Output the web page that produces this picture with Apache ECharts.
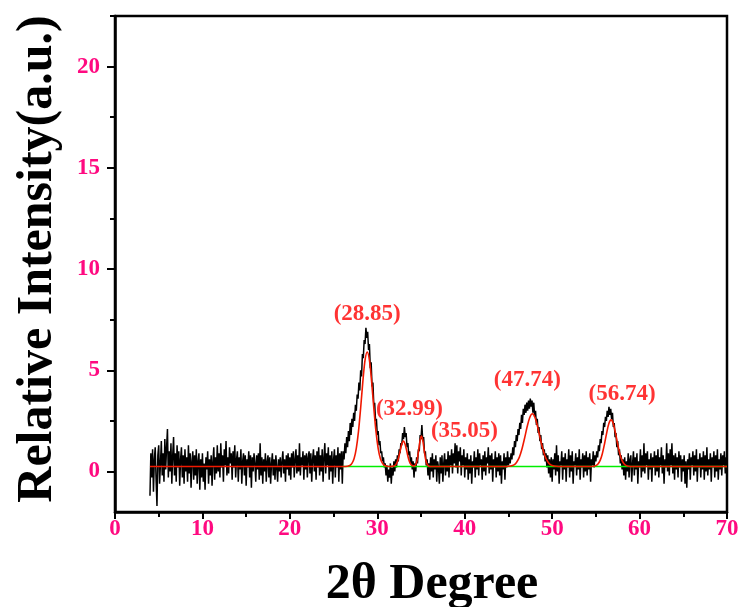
<!DOCTYPE html>
<html>
<head>
<meta charset="utf-8">
<script src="https://cdn.jsdelivr.net/npm/echarts@6/dist/echarts.min.js"></script>
<style>
  html, body { margin: 0; padding: 0; background: #fff; }
  #chart { width: 738px; height: 607px; }
</style>
</head>
<body>
<div id="chart"></div>
<script>
// Measured XRD pattern: 2θ from 4.0° to 70.0° in 0.1° steps
const scanStart = 4.0;
const scanStep = 0.1;
const intensity = [
  -1.2, 0.9, -0.3, 1.1, -1.0, 0.6, 1.2, -0.4, -1.7, 0.8,
  1.3, -0.6, 0.4, 1.5, -0.2, 0.9, -0.5, 1.6, 0.1, 1.2,
  2.1, -0.3, 1.0, 0.0, 1.4, -0.6, 0.8, 1.7, -0.2, 0.9,
  -0.5, 1.3, 0.2, 1.0, -0.7, 0.6, 1.2, -0.3, 0.8, -0.6,
  1.1, 0.0, 0.7, -0.5, 1.3, -0.1, 0.9, -0.8, 0.5, 1.0,
  -0.4, 0.8, -0.2, 1.1, -0.6, 0.5, 0.9, -0.9, 0.6, -0.3,
  0.9, -0.5, 0.4, -0.9, 0.7, 0.1, 1.0, -0.6, 0.6, -0.2,
  0.8, -0.7, 0.5, 1.2, -0.4, 0.7, -0.1, 1.3, 0.0, 0.9,
  -0.3, 1.4, 0.2, 0.8, -0.5, 1.1, 0.3, 1.5, -0.2, 0.7,
  -0.1, 1.2, 0.4, 0.9, -0.4, 1.0, 0.2, 1.3, -0.3, 0.6,
  1.0, -0.5, 0.7, 0.1, 1.1, -0.6, 0.5, 0.9, -0.2, 0.8,
  -0.7, 0.6, 0.2, 1.0, -0.3, 0.8, -0.8, 0.7, 0.0, 0.9,
  0.4, -0.5, 0.8, 0.1, 0.9, -0.4, 1.4, -0.2, 0.7, -0.6,
  0.6, 0.0, 0.9, -0.5, 0.5, 0.8, -0.3, 0.7, -0.6, 0.4,
  0.9, -0.2, 0.6, -0.4, 0.8, 0.2, -0.5, 0.6, 0.0, 0.7,
  -0.3, 0.5, 1.0, -0.1, 0.6, -0.5, 0.8, 0.1, 0.9, -0.2,
  0.7, -0.4, 0.9, 0.2, 1.0, -0.3, 0.6, 1.1, -0.1, 0.8,
  0.0, 1.4, -0.2, 0.7, 0.3, 1.0, -0.4, 0.8, 0.1, 0.9,
  -0.3, 0.7, 1.0, -0.1, 0.9, -0.5, 0.6, 1.1, 0.0, 0.8,
  -0.4, 1.0, 0.2, 1.2, -0.2, 0.8, 0.0, 1.1, -0.5, 0.7,
  1.4, -0.1, 0.9, 0.3, 1.2, -0.4, 0.8, 0.0, 1.0, -0.6,
  0.6, 1.1, -0.3, 0.8, 0.2, 1.2, -0.5, 0.9, 0.1, 1.0,
  -0.6, 1.0, 0.6, 1.4, 0.9, 1.7, 1.2, 2.0, 1.5, 2.4,
  1.8, 2.6, 2.2, 2.9, 2.5, 3.3, 3.0, 3.8, 3.6, 4.4,
  4.0, 5.0, 4.7, 5.8, 5.6, 6.5, 6.3, 7.1, 6.6, 6.9,
  6.0, 6.3, 5.1, 5.4, 4.2, 4.4, 3.3, 3.4, 2.5, 2.6,
  1.8, 2.0, 1.3, 1.5, 0.9, 1.0, 0.5, 0.7, 0.2, 0.4,
  -0.2, 0.3, -0.5, 0.1, -0.3, 0.4, -0.6, 0.2, -0.2, 0.5,
  0.0, 0.6, 0.2, 0.8, 0.5, 1.1, 0.9, 1.4, 1.3, 1.9,
  1.6, 2.2, 1.7, 1.9, 1.2, 1.4, 0.8, 1.0, 0.4, 0.7,
  0.1, 0.5, -0.3, 0.4, 0.0, 0.7, 0.4, 1.1, 1.0, 1.8,
  1.6, 2.3, 1.5, 1.7, 0.9, 1.0, 0.3, 0.6, -0.2, 0.4,
  -0.4, 0.7, 0.0, 0.9, -0.3, 0.6, 0.1, 0.8, -0.5, 0.5,
  0.2, -0.6, 0.7, -0.1, 0.8, -0.5, 0.4, 0.9, -0.2, 0.6,
  0.0, 1.0, -0.3, 0.8, 0.3, 1.1, -0.1, 0.9, 0.4, 1.4,
  0.2, 1.3, -0.1, 1.0, 0.5, 1.2, -0.2, 0.8, 0.3, 1.1,
  -0.3, 0.7, 0.1, 0.9, -0.4, 0.6, -0.1, 0.8, -0.6, 0.5,
  0.2, 1.0, -0.3, 0.7, 0.1, 1.1, -0.2, 0.9, 0.3, 0.6,
  -0.4, 0.8, 0.0, 1.0, -0.2, 0.7, 0.4, 1.2, -0.1, 0.8,
  0.1, 0.9, -0.5, 0.6, 0.2, 1.0, -0.3, 0.7, 0.0, 0.9,
  -0.2, 0.8, -0.6, 0.5, 0.1, 0.9, -0.4, 0.7, 0.2, 1.0,
  0.3, 0.7, 0.4, 0.9, 0.6, 1.2, 0.8, 1.5, 1.2, 1.8,
  1.5, 2.1, 1.8, 2.4, 2.1, 2.8, 2.4, 3.1, 2.8, 3.3,
  2.9, 3.4, 3.0, 3.5, 3.1, 3.6, 3.2, 3.5, 2.9, 3.4,
  2.7, 3.0, 2.3, 2.6, 1.9, 2.2, 1.5, 1.8, 1.1, 1.4,
  0.8, 1.1, 0.5, 0.9, 0.2, 0.8, -0.1, 0.6, -0.3, 0.7,
  -0.5, 0.6, 0.1, 0.9, -0.2, 1.3, 0.0, 0.8, -0.6, 0.5,
  0.3, 1.0, -0.4, 0.7, 0.1, 0.9, -0.5, 0.6, 0.2, 1.1,
  -0.3, 0.8, 0.0, 1.0, -0.6, 0.5, 0.3, 0.9, -0.2, 0.7,
  0.1, 1.1, -0.4, 0.6, 0.2, 0.9, -0.3, 0.8, 0.0, 1.0,
  -0.2, 0.7, 0.1, 0.9, -0.5, 0.6, 0.3, 1.0, 0.2, 0.8,
  0.5, 1.0, 0.7, 1.3, 1.0, 1.6, 1.4, 2.0, 1.8, 2.4,
  2.2, 2.7, 2.5, 3.0, 2.7, 3.2, 2.8, 3.1, 2.6, 2.9,
  2.2, 2.4, 1.7, 1.9, 1.2, 1.5, 0.8, 1.1, 0.4, 0.8,
  0.1, 0.6, -0.2, 0.7, -0.4, 0.5, 0.0, 0.9, -0.3, 0.6,
  0.8, -0.5, 0.4, 1.0, -0.2, 0.7, 0.1, 0.9, -0.6, 0.5,
  0.2, 1.1, -0.3, 0.8, 0.0, 1.4, -0.1, 0.9, 0.3, 1.0,
  -0.4, 0.6, 0.1, 0.9, -0.5, 0.7, 0.2, 1.0, -0.2, 0.8,
  0.0, 1.1, -0.3, 0.7, 0.3, 1.2, -0.1, 0.8, -0.6, 0.6,
  0.2, 1.4, 0.0, 0.9, -0.2, 1.1, 0.3, 1.4, -0.1, 0.8,
  -0.4, 0.9, 0.1, 0.7, -0.3, 1.0, 0.2, 0.8, -0.5, 0.6,
  0.0, 0.8, -0.6, 0.5, -0.8, 0.6, 0.1, 0.9, -0.4, 0.7,
  0.3, 1.0, -0.2, 0.8, 0.0, 1.1, -0.5, 0.6, 0.2, 0.9,
  -0.3, 0.7, 0.1, 1.0, -0.4, 0.8, 0.0, 1.2, -0.2, 0.6,
  0.1, 0.9, -0.5, 0.7, 0.2, 1.0, -0.3, 0.8, 0.0, 1.1,
  -0.4, 0.6, 0.1, 0.9, -0.2, 0.8, 0.3, 1.0, -0.1, 0.7,
  0.4
];

// Peak fit (sum of Gaussians on a flat background)
const fitAngle = [
  4.0,
  26.35, 26.85, 27.1, 27.35, 27.6, 27.85, 28.1, 28.35, 28.6, 28.85,
  29.1, 29.35, 29.6, 29.85, 30.1, 30.35, 30.6, 30.85, 31.35,
  31.99, 32.19, 32.39, 32.59, 32.79, 32.99, 33.19, 33.39, 33.59, 33.79,
  33.99, 34.25, 34.45, 34.6, 34.75, 34.9, 35.05, 35.2, 35.35, 35.5,
  35.65, 35.85, 36.05,
  44.74, 45.24, 45.64, 45.94, 46.24, 46.54, 46.84, 47.14, 47.44, 47.74,
  48.04, 48.34, 48.64, 48.94, 49.24, 49.54, 49.84, 50.24, 50.74,
  54.24, 54.74, 54.99, 55.24, 55.49, 55.74, 55.99, 56.24, 56.49, 56.74,
  56.99, 57.24, 57.49, 57.74, 57.99, 58.24, 58.49, 58.74, 59.24,
  70.0
];
const fitIntensity = [
  0.25,
  0.25, 0.30, 0.40, 0.64, 1.14, 1.98, 3.15, 4.45, 5.50, 5.90,
  5.50, 4.45, 3.15, 1.98, 1.14, 0.64, 0.40, 0.30, 0.25,
  0.29, 0.39, 0.61, 0.97, 1.34, 1.50, 1.34, 0.97, 0.61, 0.39,
  0.30, 0.28, 0.40, 0.66, 1.10, 1.55, 1.75, 1.55, 1.10, 0.66,
  0.40, 0.28, 0.25,
  0.25, 0.27, 0.33, 0.46, 0.70, 1.10, 1.63, 2.21, 2.67, 2.85,
  2.67, 2.21, 1.63, 1.10, 0.70, 0.46, 0.33, 0.27, 0.25,
  0.25, 0.26, 0.29, 0.37, 0.55, 0.88, 1.36, 1.91, 2.37, 2.55,
  2.37, 1.91, 1.36, 0.88, 0.55, 0.37, 0.29, 0.26, 0.25,
  0.25
];

// Background line
const backgroundAngle = [26.0, 70.0];
const backgroundLevel = [0.25, 0.25];

// Fitted peak centres (2θ)
const peakCentres = [28.85, 32.99, 35.05, 47.74, 56.74];

// Axis ticks
const xTickValues = [0, 10, 20, 30, 40, 50, 60, 70];
const yTickValues = [0, 5, 10, 15, 20];
const yMinorTickValues = [2.5, 7.5, 12.5, 17.5, 22.5];

// Label placement for the peak annotations: [height in data units, x shift in px]
const peakLabelPlacement = [[7.8, 0], [3.1, 6], [2.0, 43], [4.5, -5], [3.85, 11]];

const serif = '"Liberation Serif", "Times New Roman", serif';
const tickColor = '#ff0a80';

const scanData = intensity.map((v, i) => [+(scanStart + i * scanStep).toFixed(2), v]);
const fitData = fitAngle.map((a, i) => [a, fitIntensity[i]]);
const backgroundData = backgroundAngle.map((a, i) => [a, backgroundLevel[i]]);
const labelData = peakCentres.map((c, i) => ({
  value: [c, peakLabelPlacement[i][0]],
  label: { offset: [peakLabelPlacement[i][1], 0] }
}));

const chart = echarts.init(document.getElementById('chart'), null, { renderer: 'canvas' });

const yBase = {
  type: 'value',
  min: -2,
  max: 22.5,
  position: 'left',
  splitLine: { show: false },
};

chart.setOption({
  animation: false,
  backgroundColor: '#fff',
  grid: {
    left: 115, right: 11, top: 16, bottom: 95,
    outerBoundsMode: 'none',
    show: true, borderColor: '#000', borderWidth: 2.5, backgroundColor: 'transparent'
  },
  xAxis: {
    type: 'value',
    min: 0, max: 70, interval: 10,
    splitLine: { show: false },
    axisLine: { onZero: false, lineStyle: { color: '#000', width: 2.5 } },
    axisTick: { inside: false, length: 7, lineStyle: { color: '#000', width: 2 },
      customValues: xTickValues },
    minorTick: { show: true, splitNumber: 2, length: 5, lineStyle: { color: '#000', width: 2 } },
    axisLabel: {
      customValues: xTickValues,
      color: tickColor, fontFamily: serif, fontWeight: 'bold', fontSize: 23, margin: 6
    }
  },
  yAxis: [
    Object.assign({}, yBase, {
      axisLine: { show: true, onZero: false, lineStyle: { color: '#000', width: 2.5 } },
      axisTick: { show: true, inside: false, length: 8, customValues: yTickValues,
        lineStyle: { color: '#000', width: 2 } },
      axisLabel: { show: true, customValues: yTickValues, color: tickColor,
        fontFamily: serif, fontWeight: 'bold', fontSize: 23, margin: 15 }
    }),
    Object.assign({}, yBase, {
      axisLine: { show: false },
      axisTick: { show: true, inside: false, length: 5, customValues: yMinorTickValues,
        lineStyle: { color: '#000', width: 2 } },
      axisLabel: { show: false }
    })
  ],
  graphic: [
    {
      type: 'text', x: 38, y: 259, rotation: Math.PI / 2,
      style: {
        text: 'Relative Intensity(a.u.)', fill: '#000',
        font: 'bold 50px ' + serif, align: 'center', verticalAlign: 'middle'
      }
    },
    {
      type: 'text', x: 432, y: 585,
      style: {
        text: '2θ Degree', fill: '#000',
        font: 'bold 50px ' + serif, align: 'center', verticalAlign: 'middle'
      }
    }
  ],
  series: [
    {
      name: 'scan', type: 'line', data: scanData, showSymbol: false, symbol: 'none',
      sampling: null, lineStyle: { color: '#000', width: 1.5 }, z: 2, silent: true
    },
    {
      name: 'background', type: 'line', data: backgroundData, showSymbol: false, symbol: 'none',
      lineStyle: { color: '#00ee00', width: 1.6 }, z: 3, silent: true
    },
    {
      name: 'fit', type: 'line', data: fitData, showSymbol: false, symbol: 'none', smooth: 0.3,
      lineStyle: { color: '#f01800', width: 1.6 }, z: 4, silent: true
    },
    {
      name: 'peaks', type: 'scatter', data: labelData, symbolSize: 0, z: 5, silent: true,
      label: {
        show: true, position: 'inside',
        formatter: p => '(' + p.value[0].toFixed(2) + ')',
        color: '#ff0000', fontFamily: serif, fontWeight: 'bold', fontSize: 23
      }
    }
  ]
});
</script>
</body>
</html>
